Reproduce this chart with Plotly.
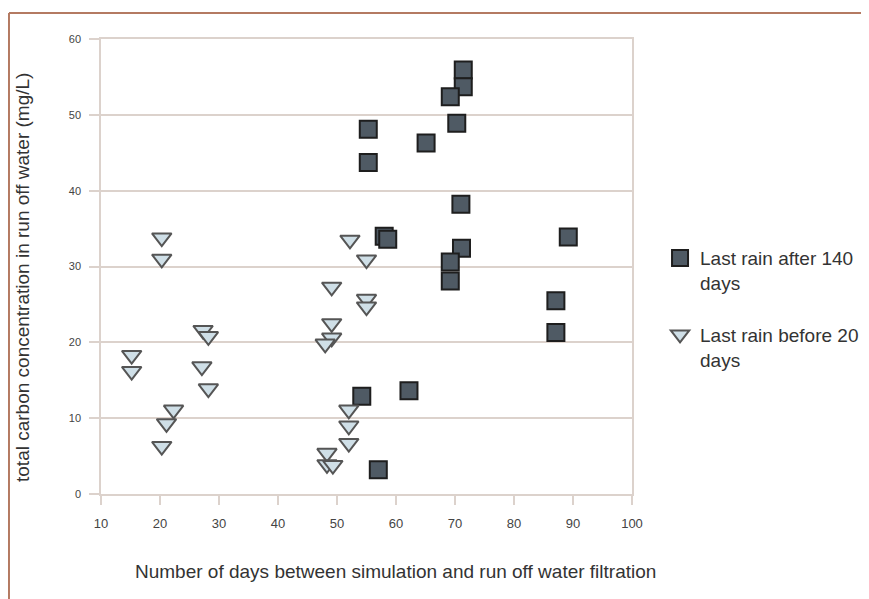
"""Scatter of run-off water carbon concentration vs days since simulation."""

import plotly.graph_objects as go

# Last rain after 140 days (squares)
after_days = [71.4, 71.4, 69.2, 70.3, 55.3, 55.3, 65.1, 71.0, 58.0, 58.6,
              71.1, 69.2, 69.2, 89.2, 87.1, 87.1, 54.2, 62.2, 57.0]
after_carbon = [55.9, 53.7, 52.4, 48.9, 48.1, 43.7, 46.3, 38.2, 34.0, 33.6,
                32.4, 30.6, 28.1, 33.9, 25.5, 21.3, 12.9, 13.6, 3.2]

# Last rain before 20 days (triangles)
before_days = [20.3, 20.3, 15.2, 15.2, 27.3, 28.2, 27.1, 28.2, 22.3, 21.1,
               20.3, 52.2, 55.0, 49.1, 55.0, 55.0, 49.1, 49.1, 48.0, 52.0,
               52.0, 52.0, 48.3, 48.3, 49.3]
before_carbon = [33.8, 31.0, 18.3, 16.2, 21.6, 20.8, 16.8, 13.9, 11.1, 9.3,
                 6.3, 33.5, 30.9, 27.3, 25.7, 24.7, 22.5, 20.6, 19.8, 11.1,
                 9.0, 6.7, 5.4, 3.9, 3.8]

x_ticks = [10, 20, 30, 40, 50, 60, 70, 80, 90, 100]
y_ticks = [0, 10, 20, 30, 40, 50, 60]

x_title = "Number of days between simulation and run off water filtration"
y_title = "total carbon concentration in run off water (mg/L)"

FONT = "Liberation Sans, Arial, sans-serif"
GRID = "#dcd2cc"
BORDER = "#b47a62"

fig = go.Figure()

fig.add_trace(go.Scatter(
    x=after_days, y=after_carbon, mode="markers",
    name="Last rain after 140<br>days", legendgroup="after",
    marker=dict(symbol="square", size=17, color="#4f5a64",
                line=dict(color="#1e1e1e", width=2)),
))

fig.add_trace(go.Scatter(
    x=before_days, y=before_carbon, mode="markers",
    name="Last rain before 20<br>days", legendgroup="before",
    marker=dict(symbol="triangle-down", size=17, color="#cfdfe7",
                line=dict(color="#555555", width=2)),
))

# brown frame round the picture (page has an 8px body margin)
fig.add_shape(type="line", xref="paper", yref="paper",
              x0=-0.1733, x1=1.5, y0=1.0571, y1=1.0571,
              line=dict(color=BORDER, width=2))
fig.add_shape(type="line", xref="paper", yref="paper",
              x0=-0.1733, x1=-0.1733, y0=1.0571, y1=-0.3,
              line=dict(color=BORDER, width=2))

# axis titles sit a little off-centre in the original
fig.add_annotation(text=x_title, xref="paper", yref="paper",
                   x=0.5537, y=-0.1714, xanchor="center", yanchor="middle",
                   showarrow=False, font=dict(family=FONT, size=19, color="#333"))
fig.add_annotation(text=y_title, xref="paper", yref="paper", textangle=-90,
                   x=-0.1488, y=0.4769, xanchor="center", yanchor="middle",
                   showarrow=False, font=dict(family=FONT, size=19, color="#333"))

fig.update_xaxes(
    range=[10, 100], tickvals=x_ticks, showgrid=False,
    showline=True, linecolor=GRID, linewidth=1.5, mirror=True,
    ticks="outside", ticklen=9, tickcolor=GRID, tickwidth=1.5,
    ticklabelstandoff=8,
    tickfont=dict(family=FONT, size=13, color="#444"),
    zeroline=False,
)
fig.update_yaxes(
    range=[0, 60], tickvals=y_ticks, showgrid=True, gridcolor=GRID, gridwidth=1.5,
    showline=True, linecolor=GRID, linewidth=1.5, mirror=True,
    ticks="outside", ticklen=10, tickcolor=GRID, tickwidth=1.5,
    ticklabelstandoff=6,
    tickfont=dict(family=FONT, size=11, color="#444"),
    zeroline=False,
)

fig.update_layout(
    width=869, height=599,
    margin=dict(l=93, r=245, t=31, b=113, autoexpand=False),
    paper_bgcolor="white", plot_bgcolor="white",
    font=dict(family=FONT, color="#333"),
    legend=dict(x=1.0528, y=0.56, xanchor="left", yanchor="top",
                font=dict(family=FONT, size=19, color="#333"),
                valign="top", tracegroupgap=24, itemsizing="trace",
                bgcolor="rgba(0,0,0,0)"),
)

fig.write_html("out.html")
